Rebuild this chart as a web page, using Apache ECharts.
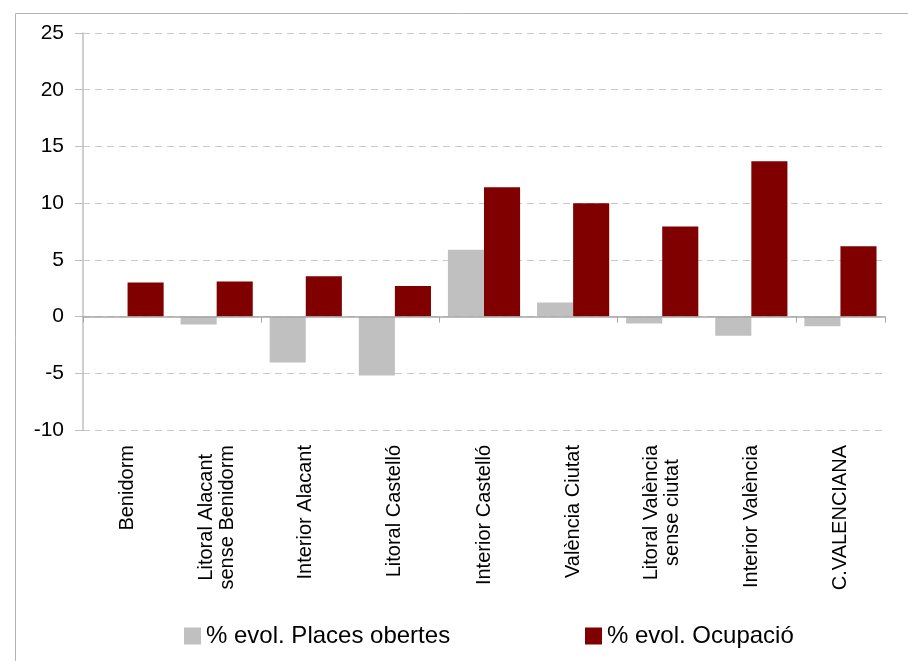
<!DOCTYPE html>
<html>
<head>
<meta charset="utf-8">
<script src="https://cdn.jsdelivr.net/npm/echarts@6/dist/echarts.min.js"></script>
<style>
html,body{margin:0;padding:0;background:#fff;}
#chart{width:908px;height:661px;}
</style>
</head>
<body>
<div id="chart"></div>
<script>
const categories = ['Benidorm', 'Litoral Alacant\nsense Benidorm', 'Interior Alacant', 'Litoral Castelló', 'Interior Castelló', 'València Ciutat', 'Litoral València\nsense ciutat', 'Interior València', 'C.VALENCIANA'];
const placesName = '% evol. Places obertes';
const ocupName = '% evol. Ocupació';
const placesValues = [0, -0.7, -4.05, -5.2, 5.9, 1.25, -0.6, -1.7, -0.85];
const ocupValues = [3.0, 3.1, 3.55, 2.7, 11.4, 10.0, 7.95, 13.7, 6.2];
const yMin = -10, yMax = 25, yStep = 5;

const FONT = '"Liberation Sans", Arial, sans-serif';
const chart = echarts.init(document.getElementById('chart'), null, {renderer: 'canvas'});
chart.setOption({
  backgroundColor: '#ffffff',
  animation: false,
  graphic: [{
    type: 'rect', silent: true, z: 0,
    shape: {x: 15.5, y: 13.5, width: 1000, height: 1000},
    style: {fill: 'none', stroke: '#b4b4b4', lineWidth: 1}
  }],
  grid: {left: 83, right: 23, top: 33, bottom: 231, containLabel: false},
  legend: [{
    data: [placesName], left: 179, top: 619, itemWidth: 17, itemHeight: 17,
    icon: 'rect', textStyle: {fontFamily: FONT, fontSize: 24, color: '#000'}
  }, {
    data: [ocupName], left: 580, top: 619, itemWidth: 17, itemHeight: 17,
    icon: 'rect', textStyle: {fontFamily: FONT, fontSize: 24, color: '#000'}
  }],
  xAxis: [{
    type: 'category', data: categories, position: 'bottom',
    axisLine: {show: false, onZero: false},
    axisTick: {show: false},
    axisLabel: {
      interval: 0, rotate: 90, margin: 15, color: '#000',
      fontFamily: FONT, fontSize: 20, lineHeight: 21,
      formatter: v => '{c|' + v + '}',
      rich: {c: {align: 'center', fontFamily: FONT, fontSize: 20, lineHeight: 21, color: '#000'}}
    },
    splitLine: {show: false}
  }, {
    type: 'category', data: categories, position: 'bottom', z: 3,
    axisLine: {show: true, onZero: true, lineStyle: {color: '#a6a6a6', width: 1.5}},
    axisTick: {show: true, inside: false, length: 6, lineStyle: {color: '#a6a6a6', width: 1}},
    axisLabel: {show: false},
    splitLine: {show: false}
  }],
  yAxis: {
    type: 'value', min: yMin, max: yMax, interval: yStep,
    axisLine: {show: true, lineStyle: {color: '#bfbfbf', width: 1.5}},
    axisTick: {show: true, length: 8, lineStyle: {color: '#bfbfbf'}},
    axisLabel: {margin: 19, color: '#000', fontFamily: FONT, fontSize: 21},
    splitLine: {show: true, lineStyle: {color: '#c8c8c8', type: [7, 5], width: 1}}
  },
  series: [{
    name: placesName, type: 'bar', xAxisIndex: 0, data: placesValues,
    itemStyle: {color: '#c0c0c0'}, barGap: '0%', barCategoryGap: '19%'
  }, {
    name: ocupName, type: 'bar', xAxisIndex: 0, data: ocupValues,
    itemStyle: {color: '#800000'}, barGap: '0%', barCategoryGap: '19%'
  }]
});
</script>
</body>
</html>
